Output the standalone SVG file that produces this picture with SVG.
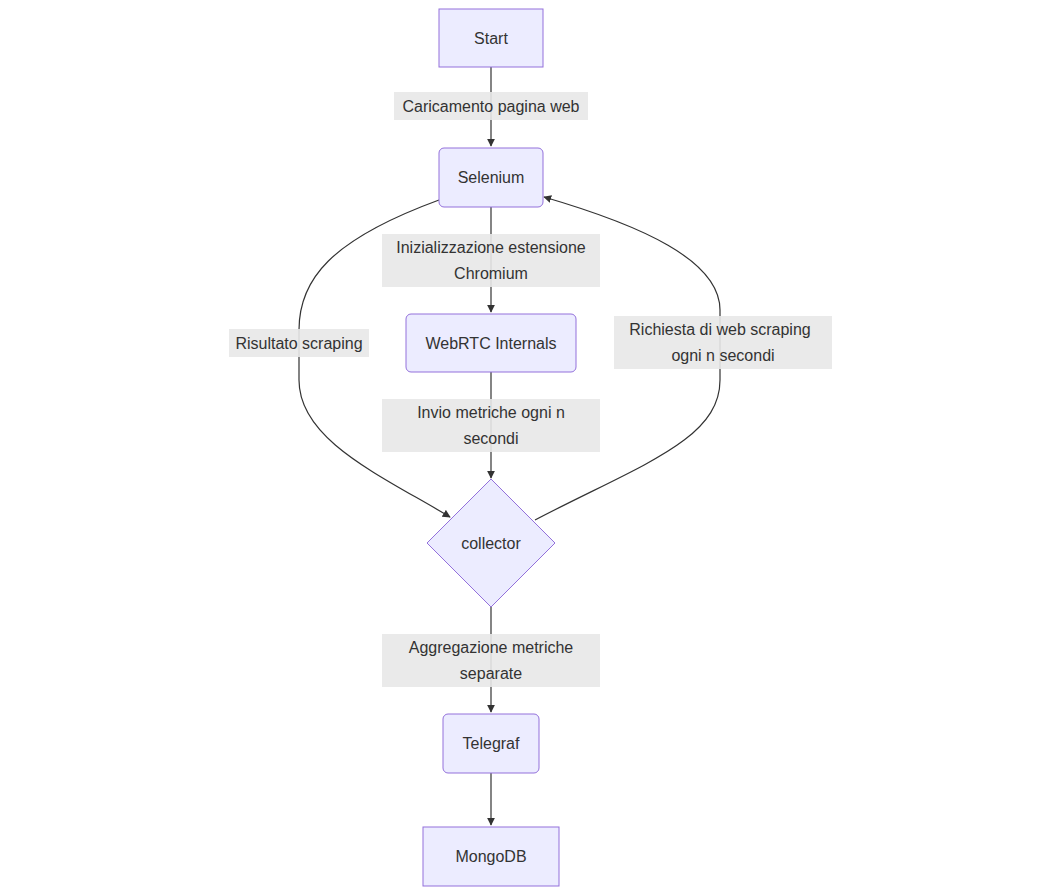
<svg xmlns="http://www.w3.org/2000/svg" width="1063" height="895" viewBox="0 0 1063 895">
<defs>
<style>
.n{fill:#ECECFF;stroke:#9370DB;stroke-width:1}
.t{font-family:"Liberation Sans",Arial,sans-serif;font-size:16px;fill:#333;text-anchor:middle;dominant-baseline:central}
.lb{fill:#e8e8e8;opacity:0.9}
.e{fill:none;stroke:#333;stroke-width:1.2}
</style>
<marker id="a" viewBox="0 0 10 10" refX="9" refY="5" markerWidth="8" markerHeight="8" orient="auto-start-reverse" markerUnits="userSpaceOnUse"><path d="M0,0L10,5L0,10z" fill="#333"/></marker>
</defs>
<rect width="1063" height="895" fill="#fff"/>
<g id="connectors">
<path class="e" d="M491,67V146" marker-end="url(#a)"/>
<path class="e" d="M491,207V312" marker-end="url(#a)"/>
<path class="e" d="M491,372V478" marker-end="url(#a)"/>
<path class="e" d="M491,607V712" marker-end="url(#a)"/>
<path class="e" d="M491,773V825" marker-end="url(#a)"/>
<path class="e" d="M439,200C330,240 299,280 299,330V380C299,440 380,475 450,517" marker-end="url(#a)"/>
<path class="e" d="M535,520C640,465 720,440 720,380V310C720,260 640,225 544,197" marker-end="url(#a)"/>
<rect class="lb" x="394" y="92" width="194" height="28"/>
<text class="t" x="491" y="106">Caricamento pagina web</text>
<rect class="lb" x="382" y="234" width="218" height="53"/>
<text class="t" x="491" y="247">Inizializzazione estensione</text>
<text class="t" x="491" y="273">Chromium</text>
<rect class="lb" x="382" y="399" width="218" height="53"/>
<text class="t" x="491" y="412">Invio metriche ogni n</text>
<text class="t" x="491" y="438">secondi</text>
<rect class="lb" x="382" y="634" width="218" height="53"/>
<text class="t" x="491" y="647">Aggregazione metriche</text>
<text class="t" x="491" y="673">separate</text>
<rect class="lb" x="229" y="329" width="140" height="28"/>
<text class="t" x="299" y="343">Risultato scraping</text>
<rect class="lb" x="614" y="316" width="218" height="53"/>
<text class="t" x="720" y="329">Richiesta di web scraping</text>
<text class="t" x="723" y="355">ogni n secondi</text>
</g>
<g id="start"><rect class="n" x="439" y="9" width="104" height="58"/><text class="t" x="491" y="38">Start</text></g>
<g id="selenium"><rect class="n" x="439" y="148" width="104" height="59" rx="5"/><text class="t" x="491" y="177">Selenium</text></g>
<g id="webrtc"><rect class="n" x="406" y="314" width="170" height="58" rx="5"/><text class="t" x="491" y="343">WebRTC Internals</text></g>
<g id="collector"><path class="n" d="M491,479L555,543L491,607L427,543z"/><text class="t" x="491" y="543">collector</text></g>
<g id="telegraf"><rect class="n" x="443" y="714" width="96" height="59" rx="5"/><text class="t" x="491" y="743">Telegraf</text></g>
<g id="mongodb"><rect class="n" x="423" y="827" width="136" height="59"/><text class="t" x="491" y="856">MongoDB</text></g>
</svg>
